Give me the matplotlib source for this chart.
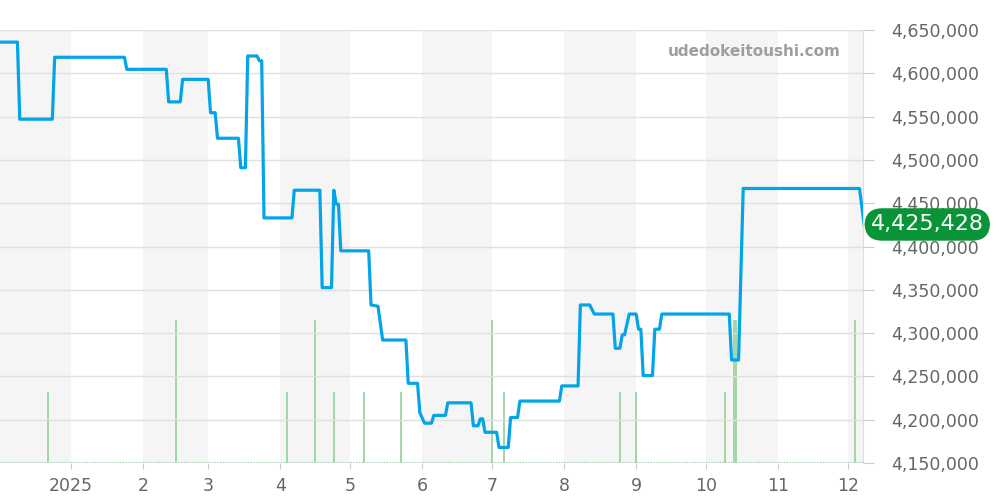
import pandas as pd
import matplotlib.pyplot as plt

# price history (vertices of the line)
price_dates = [
    '2024-12-01', '2024-12-09', '2024-12-10', '2024-12-24', '2024-12-25',
    '2025-01-24', '2025-01-25', '2025-02-11', '2025-02-12', '2025-02-17',
    '2025-02-18', '2025-03-01', '2025-03-02', '2025-03-04', '2025-03-05',
    '2025-03-14', '2025-03-15', '2025-03-17', '2025-03-18', '2025-03-22',
    '2025-03-23', '2025-03-24', '2025-03-25', '2025-04-06', '2025-04-07',
    '2025-04-18', '2025-04-19', '2025-04-23', '2025-04-24', '2025-04-25',
    '2025-04-26', '2025-04-27', '2025-05-09', '2025-05-10', '2025-05-13',
    '2025-05-15', '2025-05-25', '2025-05-26', '2025-05-30', '2025-05-31',
    '2025-06-02', '2025-06-05', '2025-06-06', '2025-06-11', '2025-06-12',
    '2025-06-22', '2025-06-23', '2025-06-25', '2025-06-26', '2025-06-27',
    '2025-06-28', '2025-07-03', '2025-07-04', '2025-07-08', '2025-07-09',
    '2025-07-12', '2025-07-13', '2025-07-30', '2025-07-31', '2025-08-07',
    '2025-08-08', '2025-08-12', '2025-08-14', '2025-08-22', '2025-08-23',
    '2025-08-25', '2025-08-26', '2025-08-27', '2025-08-29', '2025-09-01',
    '2025-09-02', '2025-09-03', '2025-09-04', '2025-09-08', '2025-09-09',
    '2025-09-11', '2025-09-12', '2025-10-11', '2025-10-12', '2025-10-15',
    '2025-10-17', '2025-12-06', '2025-12-08',
]
price_values = [
    4636000, 4636000, 4547000, 4547000, 4618500,
    4618500, 4604600, 4604600, 4567000, 4567000,
    4593000, 4593000, 4554500, 4554500, 4525000,
    4525000, 4491000, 4491000, 4620000, 4620000,
    4614500, 4614500, 4433000, 4433000, 4465000,
    4465000, 4352500, 4352500, 4465000, 4449000,
    4449000, 4395000, 4395000, 4332500, 4331000,
    4292000, 4292000, 4242000, 4242000, 4208000,
    4196000, 4196000, 4205000, 4205000, 4219500,
    4219500, 4193000, 4193000, 4201000, 4201000,
    4185500, 4185500, 4168000, 4168000, 4202500,
    4202500, 4221500, 4221500, 4239000, 4239000,
    4332500, 4332500, 4322000, 4322000, 4282500,
    4282500, 4298000, 4298000, 4322000, 4322000,
    4304500, 4304500, 4251000, 4251000, 4304500,
    4304500, 4322000, 4322000, 4269000, 4269000,
    4467000, 4467000, 4425428,
]
last_price = 4425428

# trade volume bars
volume_dates = [
    '2024-12-22', '2025-02-15', '2025-04-04', '2025-04-16', '2025-04-24',
    '2025-05-07', '2025-05-23', '2025-07-01', '2025-07-06', '2025-08-25',
    '2025-09-01', '2025-10-09', '2025-10-13', '2025-10-14', '2025-12-04',
]
volume_values = [1, 2, 1, 2, 1, 1, 1, 2, 1, 1, 1, 1, 2, 2, 2]

month_ticks = pd.date_range('2025-01-01', '2025-12-01', freq='MS')
month_labels = ['2025', '2', '3', '4', '5', '6', '7', '8', '9', '10', '11', '12']
shaded_months = ['2024-12-01', '2025-02-01', '2025-04-01', '2025-06-01',
                 '2025-08-01', '2025-10-01', '2025-12-01']

px = pd.to_datetime(price_dates)
vx = pd.to_datetime(volume_dates)

fig = plt.figure(figsize=(10, 5), dpi=100)
ax = fig.add_axes([0.0, 0.074, 0.863, 0.866])
ax2 = ax.twinx()
ax.set_zorder(2)
ax2.set_zorder(1)
ax.patch.set_visible(False)

x0 = pd.Timestamp('2024-12-01 12:00')
x1 = pd.Timestamp('2025-12-07 12:00')

for m in shaded_months:
    s = pd.Timestamp(m)
    e = s + pd.offsets.MonthBegin(1)
    ax2.axvspan(s, e, color='#f5f5f5', lw=0, zorder=0)

ax2.bar(vx, volume_values, width=0.8, color='#a5d6a7', zorder=2)
ax2.plot([x0, x1], [0.02, 0.02], color='#a5d6a7', lw=1, ls=(0, (1, 1)), zorder=2)
ax2.set_ylim(0, 6.06)
ax2.set_yticks([])
for sp in ax2.spines.values():
    sp.set_visible(False)

ax.plot(px, price_values, color='#03a4e8', lw=2.3, zorder=3, solid_joinstyle='round')

ax.set_xlim(x0, x1)
ax.set_ylim(4150000, 4650000)
ax.set_yticks(range(4150000, 4650001, 50000))
ax.set_yticklabels([f'{v:,}' for v in range(4150000, 4650001, 50000)])
ax.yaxis.tick_right()
ax.set_xticks(month_ticks)
ax.set_xticklabels(month_labels)
ax.tick_params(axis='y', colors='#cccccc', labelcolor='#666666', labelsize=12.5,
               length=8, pad=12)
ax.tick_params(axis='x', colors='#cccccc', labelcolor='#666666', labelsize=12.5,
               length=4, pad=6)
ax.grid(axis='y', color='#e0e0e0', lw=1)
for side in ['left', 'top', 'bottom']:
    ax.spines[side].set_visible(False)
ax.spines['right'].set_color('#dddddd')

ax.text(1.009, last_price, f'{last_price:,}', transform=ax.get_yaxis_transform(),
        ha='left', va='center', fontsize=16, color='white', zorder=5,
        bbox=dict(boxstyle='round,pad=0.28,rounding_size=0.8', fc='#0a9438', ec='none'),
        clip_on=False)

ax.text(0.974, 0.95, 'udedokeitoushi.com', transform=ax.transAxes, ha='right',
        va='center', fontsize=11, fontweight='bold', color='#9e9e9e')

fig.savefig('out.png', dpi=100)
